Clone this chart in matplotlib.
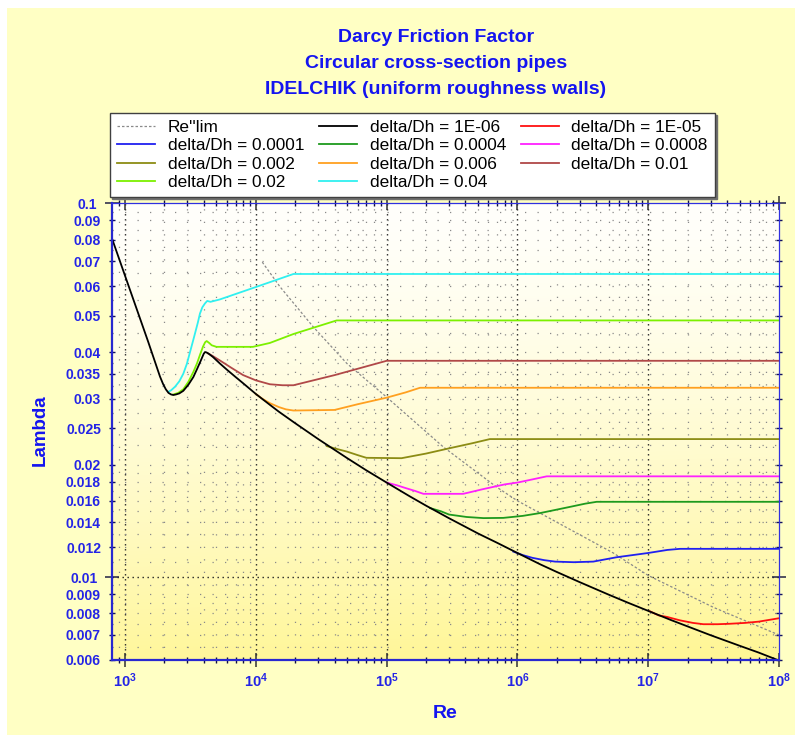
import numpy as np
import matplotlib
matplotlib.use('Agg')
import matplotlib.pyplot as plt
from matplotlib.patches import Rectangle
from matplotlib.ticker import FixedLocator, FixedFormatter, NullFormatter

plt.rcParams['font.family'] = ['Liberation Sans', 'DejaVu Sans']
plt.rcParams['mathtext.fontset'] = 'custom'
plt.rcParams['mathtext.rm'] = 'Liberation Sans:bold'
plt.rcParams['mathtext.bf'] = 'Liberation Sans:bold'
plt.rcParams['mathtext.it'] = 'Liberation Sans:bold'

# ---------------- data ----------------
re_smooth = [800, 1000, 1500, 1850, 1950, 2050, 2150, 2250, 2340, 2450, 2600, 2790, 3050,
             3330, 3550, 3740, 3900, 4000, 4090, 4200, 4400, 4700, 5300, 6000, 7000, 8000,
             1e4, 1.28e4, 1.5e4, 2e4, 3e4, 5e4, 7e4, 1e5, 1.5e5, 2e5, 3e5, 5e5, 7e5, 1e6,
             1.5e6, 2e6, 3e6, 5e6, 7e6, 1e7, 1.5e7, 2e7, 3e7, 5e7, 7e7, 1e8]
lam_smooth = [0.0800, 0.0640, 0.0427, 0.0344, 0.0329, 0.0318, 0.0311, 0.0308, 0.0307,
              0.0308, 0.0310, 0.0315, 0.0327, 0.0343, 0.0360, 0.0375, 0.0388, 0.0396,
              0.0400, 0.0399, 0.0395, 0.0388, 0.0373, 0.0359, 0.0343, 0.0330, 0.0309,
              0.0289, 0.0277, 0.0258, 0.0234, 0.0208, 0.0193, 0.0179, 0.01645, 0.01553,
              0.01437, 0.01308, 0.01235, 0.0116, 0.01081, 0.01032, 0.00969, 0.00897,
              0.00854, 0.00812, 0.00767, 0.00738, 0.00699, 0.00655, 0.00628, 0.00598]

re_1e5 = [1.03e7, 1.2e7, 1.4e7, 1.75e7, 2.2e7, 2.64e7, 3.4e7, 4.2e7, 5.5e7, 7e7, 1e8]
lam_1e5 = [0.0081, 0.0079, 0.00782, 0.00766, 0.00754, 0.00748, 0.00748, 0.0075, 0.00754,
           0.0076, 0.00776]

re_1e4 = [9.3e5, 1.1e6, 1.3e6, 1.6e6, 1.94e6, 2.7e6, 3.8e6, 5.74e6, 1e7, 1.4e7, 1.75e7, 1e8]
lam_1e4 = [0.0117, 0.01145, 0.01126, 0.0111, 0.0110, 0.01096, 0.0110, 0.0113, 0.0116,
           0.01182, 0.0119, 0.0119]

re_4e4 = [2.15e5, 2.6e5, 3e5, 4.09e5, 5.5e5, 7.8e5, 1.1e6, 1.5e6, 2.5e6, 3.3e6, 4.04e6, 1e8]
lam_4e4 = [0.0153, 0.0150, 0.0147, 0.01448, 0.01438, 0.0144, 0.01458, 0.01484, 0.0154,
           0.01572, 0.0159, 0.0159]

re_8e4 = [1e5, 1.2e5, 1.4e5, 1.65e5, 1.91e5, 3.85e5, 5.5e5, 8e5, 1e6, 1.3e6, 1.675e6, 1e8]
lam_8e4 = [0.0179, 0.0176, 0.01730, 0.0170, 0.0167, 0.0167, 0.0172, 0.0177, 0.0179,
           0.01825, 0.0186, 0.0186]

re_2e3 = [3.5e4, 4.2e4, 5e4, 6e4, 7e4, 1.3e5, 2e5, 3e5, 4.5e5, 6.16e5, 1e8]
lam_2e3 = [0.0224, 0.0220, 0.02165, 0.0212, 0.02085, 0.0208, 0.0214, 0.0221, 0.0228,
           0.0234, 0.0234]

re_6e3 = [1e4, 1.12e4, 1.28e4, 1.5e4, 1.7e4, 1.94e4, 4e4, 6e4, 1e5, 1.4e5, 1.8e5, 1e8]
lam_6e3 = [0.0309, 0.0300, 0.0292, 0.0285, 0.0281, 0.0279, 0.0280, 0.0290, 0.0302, 0.0312,
           0.0321, 0.0321]

re_1e2 = [4300, 4700, 5300, 6500, 8000, 1e4, 1.28e4, 1.6e4, 1.94e4, 4e4, 1e5, 1e8]
lam_1e2 = [0.0397, 0.0390, 0.0380, 0.0363, 0.0347, 0.0336, 0.0328, 0.0326, 0.0326, 0.0347,
           0.0379, 0.0379]

re_2e2 = [2340, 2550, 2790, 3050, 3330, 3550, 3740, 3950, 4100, 4210, 4400, 4600, 5000,
          9500, 1.28e4, 1.94e4, 3e4, 4.15e4, 1e8]
lam_2e2 = [0.0308, 0.0311, 0.0318, 0.0333, 0.0354, 0.0373, 0.0393, 0.0414, 0.0425, 0.0428,
           0.0423, 0.0417, 0.0413, 0.0413, 0.0423, 0.0447, 0.0469, 0.0486, 0.0486]

re_4e2 = [2140, 2250, 2410, 2600, 2790, 2970, 3140, 3290, 3430, 3600, 3740, 3900, 4090,
          4250, 4500, 5300, 1e4, 1.94e4, 1e8]
lam_4e2 = [0.0313, 0.0316, 0.0323, 0.0334, 0.0350, 0.0372, 0.0400, 0.0425, 0.0449, 0.0479,
           0.0507, 0.0527, 0.0540, 0.0548, 0.0545, 0.0553, 0.0597, 0.0647, 0.0647]

re_lim = [1.12e4, 1.53e4, 2.75e4, 4.96e4, 1e5, 2.71e5, 6.95e5, 1e6, 5.41e6, 1e7, 3.15e7, 1e8]
lam_lim = [0.0696, 0.0598, 0.0467, 0.0373, 0.0303, 0.0223, 0.0174, 0.0160, 0.0116, 0.0101,
           0.0083, 0.0070]

series_labels = ['delta/Dh = 1E-06', 'delta/Dh = 1E-05', 'delta/Dh = 0.0001',
                 'delta/Dh = 0.0004', 'delta/Dh = 0.0008', 'delta/Dh = 0.002',
                 'delta/Dh = 0.006', 'delta/Dh = 0.01', 'delta/Dh = 0.02', 'delta/Dh = 0.04']
series_re = [re_smooth, re_1e5, re_1e4, re_4e4, re_8e4, re_2e3, re_6e3, re_1e2, re_2e2, re_4e2]
series_lam = [lam_smooth, lam_1e5, lam_1e4, lam_4e4, lam_8e4, lam_2e3, lam_6e3, lam_1e2,
              lam_2e2, lam_4e2]
series_colors = ['#000000', '#FF1010', '#2020F0', '#1E9A1E', '#FF20FF', '#8C8C14',
                 '#FFA020', '#B04848', '#7CF000', '#30F0F0']

y_tick_vals = [0.006, 0.007, 0.008, 0.009, 0.01, 0.012, 0.014, 0.016, 0.018, 0.02, 0.025,
               0.03, 0.035, 0.04, 0.05, 0.06, 0.07, 0.08, 0.09, 0.1]
y_tick_labels = ['0.006', '0.007', '0.008', '0.009', '0.01', '0.012', '0.014', '0.016',
                 '0.018', '0.02', '0.025', '0.03', '0.035', '0.04', '0.05', '0.06', '0.07',
                 '0.08', '0.09', '0.1']
y_mid_grid = [0.0065, 0.0075, 0.0085, 0.0095, 0.011, 0.013, 0.015, 0.017, 0.019, 0.0225,
              0.0275, 0.0325, 0.0375, 0.045, 0.055, 0.065, 0.075, 0.085, 0.095]
x_decades = [1e3, 1e4, 1e5, 1e6, 1e7, 1e8]
x_labels = [r'$\mathbf{10^{3}}$', r'$\mathbf{10^{4}}$', r'$\mathbf{10^{5}}$',
            r'$\mathbf{10^{6}}$', r'$\mathbf{10^{7}}$', r'$\mathbf{10^{8}}$']

# ---------------- figure ----------------
W, H = 795, 735
fig = plt.figure(figsize=(W / 100, H / 100), dpi=100)
fig.patch.set_facecolor('white')
fig.add_artist(Rectangle((7 / W, 0), 1 - 7 / W, 1 - 8 / H, transform=fig.transFigure,
                         facecolor='#FFFFC4', edgecolor='none', zorder=-10))

left, right, top, bottom = 112, 779, 203.3, 660
pos = [left / W, 1 - bottom / H, (right - left) / W, (bottom - top) / H]

# gradient background of plot area
bg = fig.add_axes(pos)
ny, nx = 300, 300
yy, xx = np.mgrid[0:1:ny * 1j, 0:1:nx * 1j]
t = np.clip(yy ** 1.4 * 0.92 + 0.08 * xx * yy, 0, 1)
c_top = np.array([1.0, 1.0, 0.985])
c_bot = np.array([1.0, 0.965, 0.58])
img = c_top[None, None, :] * (1 - t[..., None]) + c_bot[None, None, :] * t[..., None]
bg.imshow(img, aspect='auto', extent=[0, 1, 0, 1], origin='upper', interpolation='bilinear')
bg.set_axis_off()

ax = fig.add_axes(pos)
ax.set_facecolor('none')
ax.set_xscale('log')
ax.set_yscale('log')
ax.set_xlim(795, 1e8)
ax.set_ylim(0.006, 0.1)

# grid lines
minor_grid_kw = dict(color='#8a8a8a', lw=0.9, ls=(0, (1.0, 9.0)), zorder=1)
major_grid_kw = dict(color='#222222', lw=1.0, ls=(0, (1.0, 2.6)), zorder=1)
for d in [1e2, 1e3, 1e4, 1e5, 1e6, 1e7]:
    for m in range(2, 10):
        v = d * m
        if 800 < v < 1e8:
            ax.axvline(v, **minor_grid_kw)
for d in x_decades[:-1]:
    ax.axvline(d, **major_grid_kw)
for v in y_tick_vals[1:-1] + y_mid_grid:
    if v != 0.01:
        ax.axhline(v, **minor_grid_kw)
ax.axhline(0.01, **major_grid_kw)

# curves
handles = {}
ln, = ax.plot(re_lim, lam_lim, color='#8a8a8a', lw=0.9, ls=(0, (2.0, 1.6)), zorder=3,
              label="Re''lim")
handles["Re''lim"] = ln
for i in range(len(series_labels) - 1, -1, -1):
    ln, = ax.plot(series_re[i], series_lam[i], color=series_colors[i], lw=1.3,
                  zorder=4 + (len(series_labels) - i), label=series_labels[i],
                  solid_joinstyle='round')
    handles[series_labels[i]] = ln

# ticks
ax.xaxis.set_major_locator(FixedLocator(x_decades))
ax.xaxis.set_major_formatter(FixedFormatter(x_labels))
xminor = [d * m for d in [1e2, 1e3, 1e4, 1e5, 1e6, 1e7] for m in range(2, 10)
          if 800 < d * m < 1e8]
ax.xaxis.set_minor_locator(FixedLocator(xminor))
ax.xaxis.set_minor_formatter(NullFormatter())

ymaj = [0.01, 0.1]
ymin = [v for v in y_tick_vals if v not in ymaj]
ax.yaxis.set_major_locator(FixedLocator(ymaj))
ax.yaxis.set_major_formatter(FixedFormatter(['0.01', '0.1']))
ax.yaxis.set_minor_locator(FixedLocator(ymin))
ax.yaxis.set_minor_formatter(FixedFormatter([y_tick_labels[y_tick_vals.index(v)] for v in ymin]))

blue = '#2424E6'
ax.tick_params(axis='x', which='major', direction='inout', length=10, width=1.1,
               color='#333333', labelsize=10.5, labelcolor=blue, pad=3, top=True)
ax.tick_params(axis='x', which='minor', direction='inout', length=5, width=1.0,
               color='#101040', top=True)
ax.tick_params(axis='y', which='major', direction='inout', length=10, width=1.1,
               color='#222244', labelsize=10, labelcolor=blue, pad=5.5, right=True)
ax.tick_params(axis='y', which='minor', direction='inout', length=5, width=1.0,
               color='#101060', labelsize=10, labelcolor=blue, pad=5.5, right=True)
for lab in ax.get_yticklabels(which='both'):
    lab.set_fontweight('bold')

for side in ['left', 'bottom']:
    ax.spines[side].set_color('#2828D0')
    ax.spines[side].set_linewidth(1.6)
for side in ['top', 'right']:
    ax.spines[side].set_color('#3030E0')
    ax.spines[side].set_linewidth(0.9)
for sp in ax.spines.values():
    sp.set_zorder(20)

# titles
title_lines = ['Darcy Friction Factor', 'Circular cross-section pipes',
               'IDELCHIK (uniform roughness walls)']
for k, txt in enumerate(title_lines):
    fig.text(436 / W, 1 - (42 + 26 * k) / H, txt, ha='center', va='baseline',
             fontsize=14, fontweight='bold', color='#1414F0')

fig.text(40 / W, 1 - 430 / H, 'Lambda', rotation=90, ha='center', va='center',
         fontsize=13.5, fontweight='bold', color='#1414F0')
fig.text(445 / W, 1 - 713 / H, 'Re', ha='center', va='center',
         fontsize=14, fontweight='bold', color='#1414F0')

# legend
order_rowmajor = ["Re''lim"] + series_labels
idx = [0, 3, 6, 9, 1, 4, 7, 10, 2, 5, 8]
hl = [handles[order_rowmajor[i]] for i in idx]
ll = [order_rowmajor[i] for i in idx]
leg = fig.legend(hl, ll, loc='upper left', ncol=3,
                 bbox_to_anchor=(110 / W, 1 - 113 / H),
                 bbox_transform=fig.transFigure, fontsize=12.4, frameon=True,
                 fancybox=False, borderaxespad=0, labelspacing=0.2, handlelength=2.2,
                 handletextpad=0.75, borderpad=0.4, columnspacing=0.85,
                 shadow={'color': '#707070', 'alpha': 1.0, 'ox': 1.5, 'oy': -1.5})
leg.get_frame().set_edgecolor('#404040')
leg.get_frame().set_linewidth(1.0)
leg.get_frame().set_facecolor('white')

fig.savefig('out.png', dpi=100)
